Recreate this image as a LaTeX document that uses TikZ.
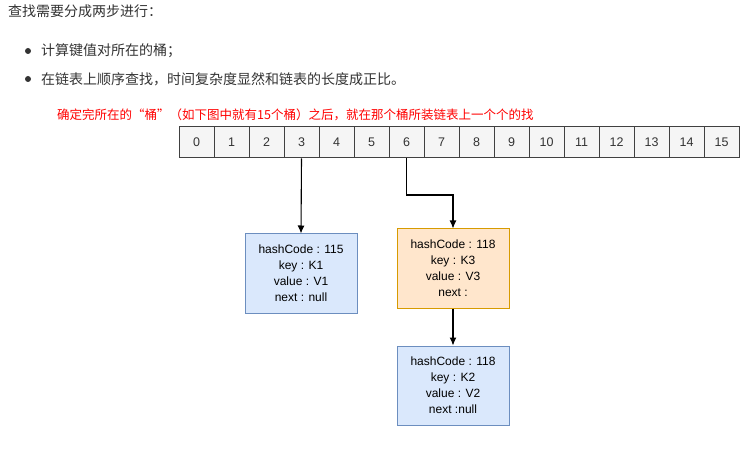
\documentclass[tikz,border=0pt]{standalone}
\usepackage{fontspec}
\usetikzlibrary{arrows.meta}
\setmainfont{Liberation Sans}
\newfontfamily\cjk{Noto Sans CJK SC}
\definecolor{bfill}{HTML}{DAE8FC}\definecolor{bline}{HTML}{6C8EBF}
\definecolor{ofill}{HTML}{FFE6CC}\definecolor{oline}{HTML}{D79B00}
\definecolor{cell}{HTML}{F5F5F5}\definecolor{txt}{HTML}{333333}
\begin{document}
\begin{tikzpicture}[x=1pt,y=-1pt,
  cellst/.style={draw=black!75,fill=cell,minimum width=35pt,minimum height=31pt,inner sep=0,font=\fontsize{12.5}{14}\selectfont,text=txt,line width=1pt},
  box/.style={draw=#1line,fill=#1fill,minimum width=112pt,minimum height=79pt,align=center,font=\fontsize{12}{16}\selectfont,text=black,inner sep=2pt,line width=1pt},
  arr/.style={-{Latex[length=8pt,width=7pt]},line width=1.1pt}]
\useasboundingbox (0,0) rectangle (744,470);
\node[anchor=west,font=\cjk\fontsize{14}{16}\selectfont,text=txt,inner sep=0] (t0) at (8,11) {查找需要分成两步进行：};
\fill[txt] (28,51) circle (3);
\fill[txt] (28,79) circle (3);
\node[anchor=west,font=\cjk\fontsize{14}{16}\selectfont,text=txt,inner sep=0] (t1) at (41,51) {计算键值对所在的桶；};
\node[anchor=west,font=\cjk\fontsize{14}{16}\selectfont,text=txt,inner sep=0] (t2) at (41,79) {在链表上顺序查找，时间复杂度显然和链表的长度成正比。};
\node[anchor=west,font=\cjk\fontsize{12.5}{14}\selectfont,text=red,inner sep=0] (t3) at (57,115) {确定完所在的“桶”（如下图中就有15个桶）之后，就在那个桶所装链表上一个个的找};
\foreach \i in {0,...,15}{\node[cellst] (c\i) at ({196.5+35*\i},142.5) {\i};}
\node[box=b] (b1) at (301,273.5) {hashCode : 115\\key : K1\\value : V1\\next : null};
\node[box=o] (b2) at (453,268.5) {hashCode : 118\\key : K3\\value : V3\\next :};
\node[box=b] (b3) at (453,385.5) {hashCode : 118\\key : K2\\value : V2\\next :null};
\draw[arr] (c3.south) -- (b1.north);
\draw[arr] (c6.south) |- (453,195) -- (b2.north);
\draw[arr] (b2) -- (b3);
\end{tikzpicture}
\end{document}
